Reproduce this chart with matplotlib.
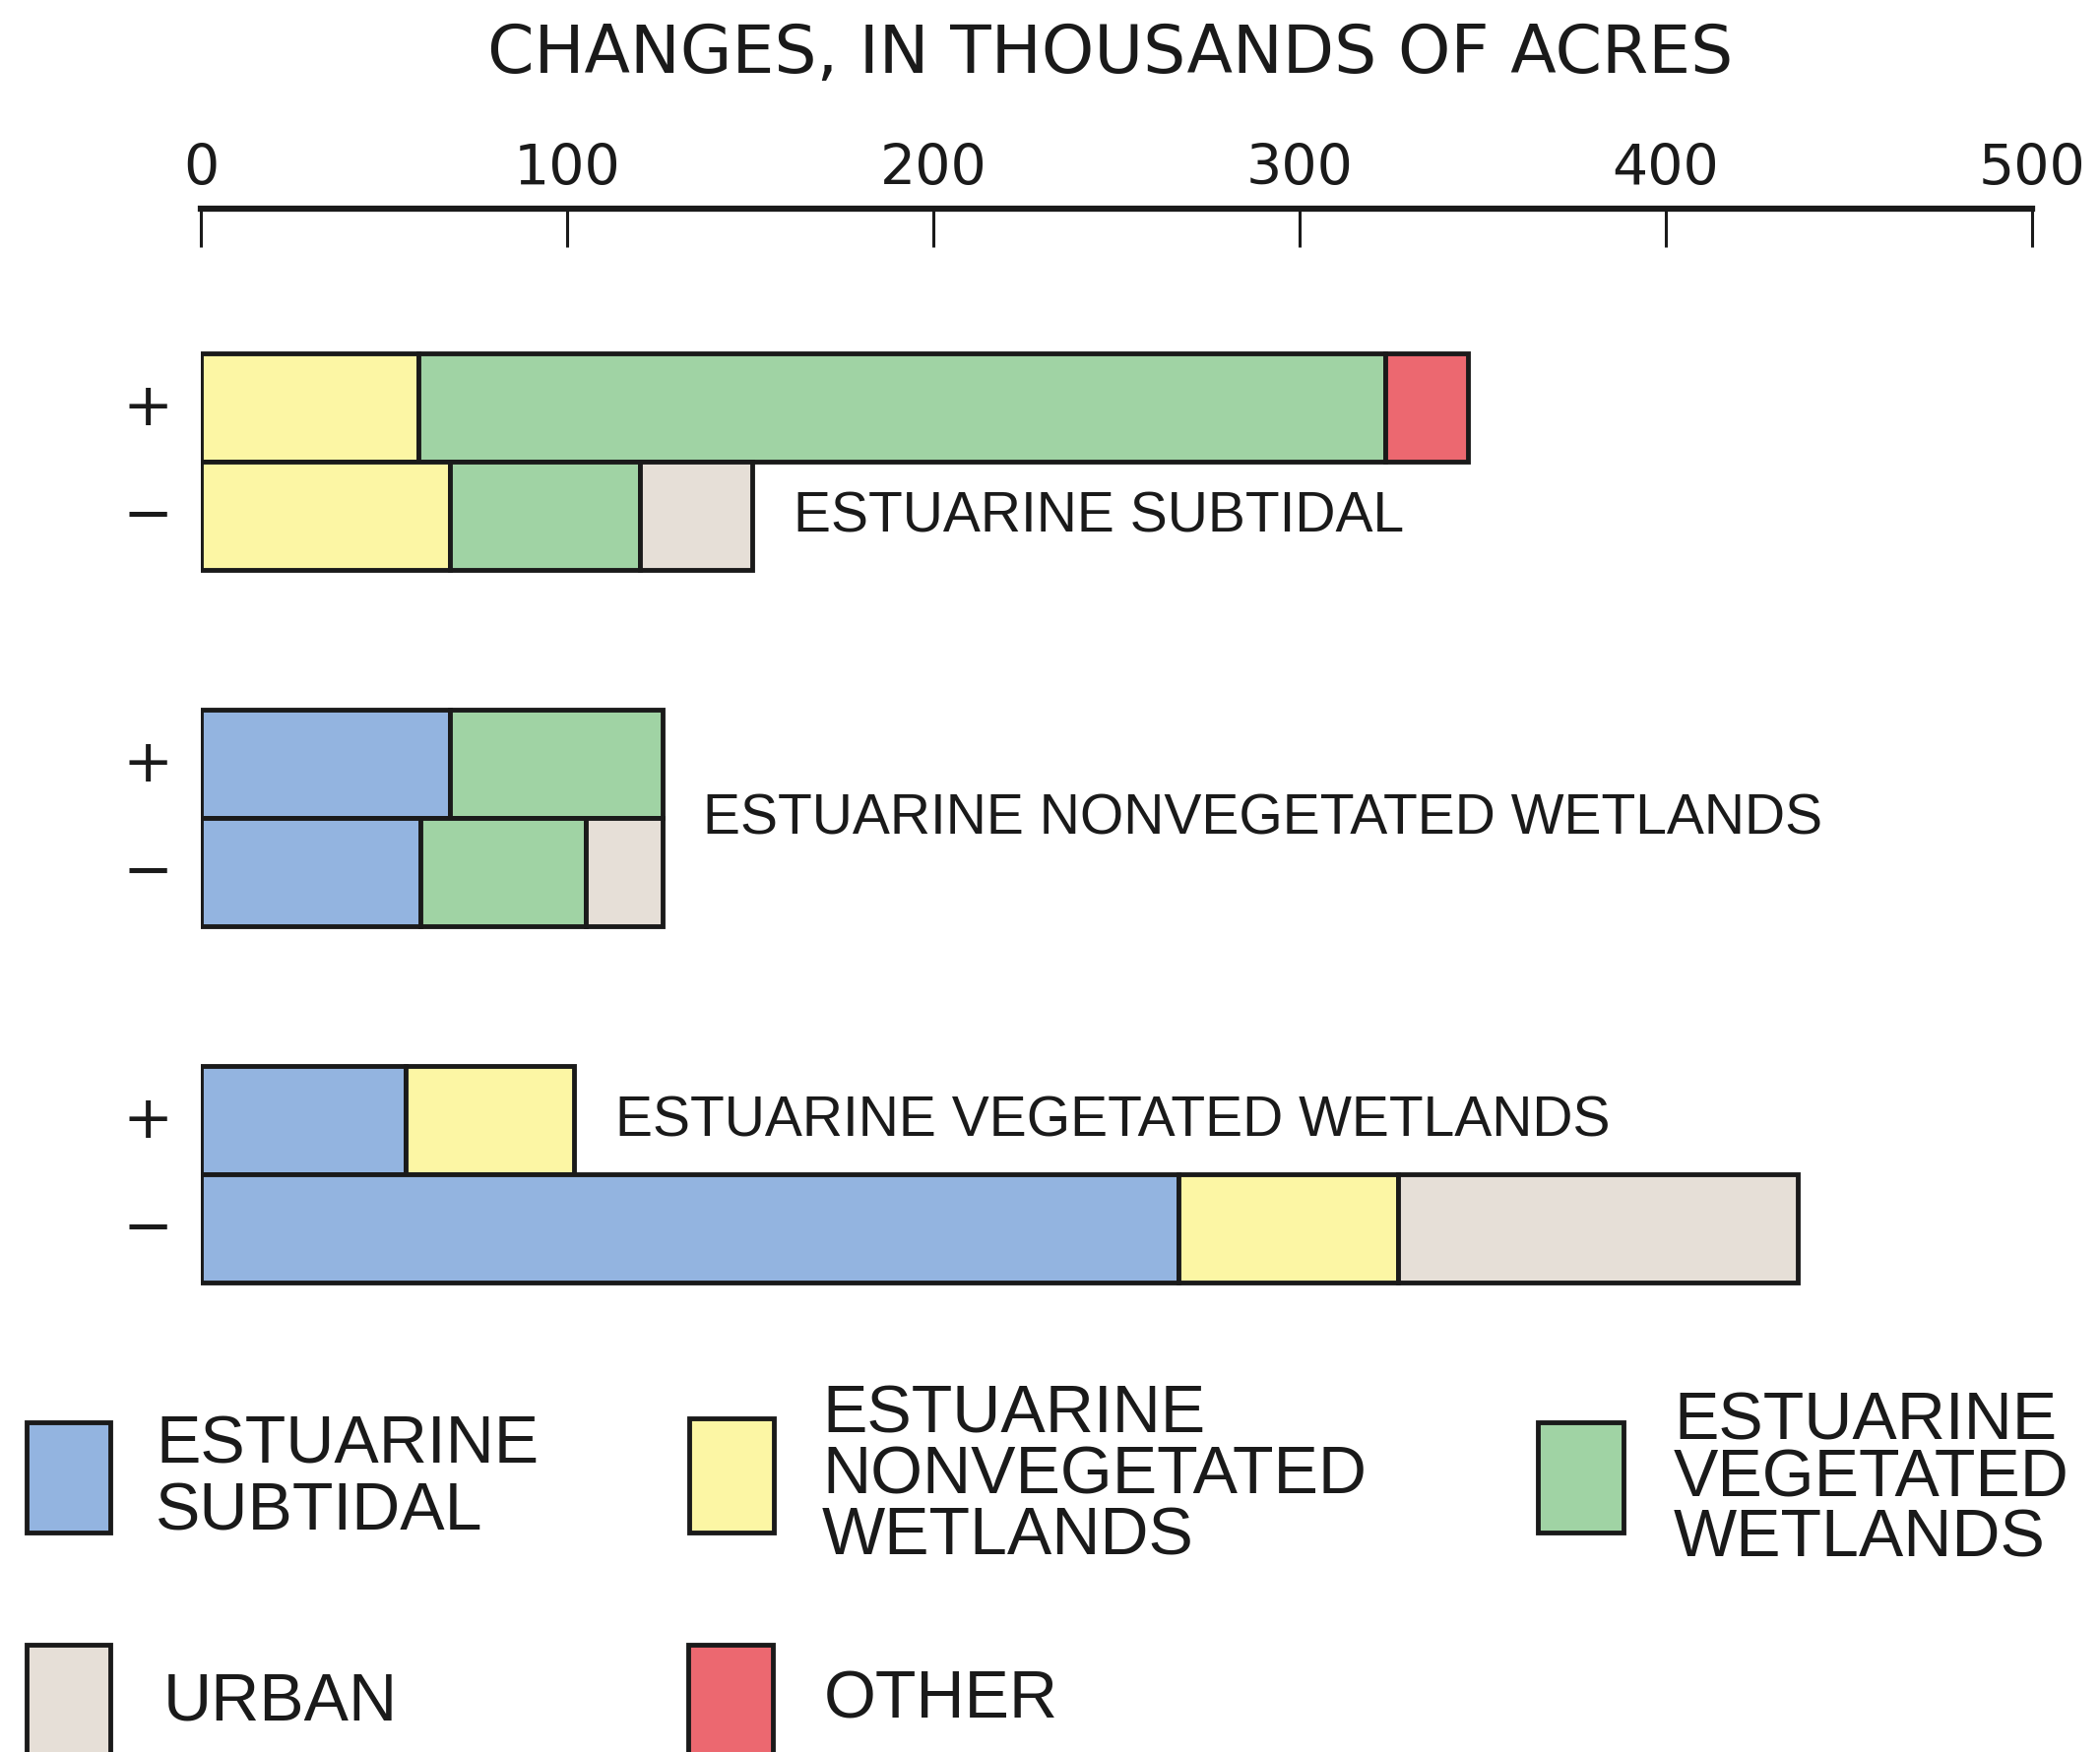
import matplotlib
matplotlib.use("Agg")
import matplotlib.pyplot as plt
from matplotlib.patches import Rectangle

# ---------------- data ----------------
groups = ["ESTUARINE SUBTIDAL", "ESTUARINE NONVEGETATED WETLANDS",
          "ESTUARINE VEGETATED WETLANDS"]
classes = ["ESTUARINE\nSUBTIDAL", "ESTUARINE\nNONVEGETATED\nWETLANDS",
           "ESTUARINE\nVEGETATED\nWETLANDS", "URBAN", "OTHER"]
# values per class: subtidal, nonvegetated, vegetated, urban, other (thousands of acres)
subtidal_gain = [0, 59.5, 264, 0, 22.5]
subtidal_loss = [0, 68, 52, 30.5, 0]
nonveg_gain = [68, 0, 58, 0, 0]
nonveg_loss = [60, 0, 45, 21, 0]
veg_gain = [56, 46, 0, 0, 0]
veg_loss = [267, 60, 0, 109, 0]
ticks = [0, 100, 200, 300, 400, 500]

gains = [subtidal_gain, nonveg_gain, veg_gain]
losses = [subtidal_loss, nonveg_loss, veg_loss]

colors = ["#93b4e0", "#fcf6a4", "#a0d3a4", "#e6dfd7", "#ec6870"]
edge = "#1a1a1a"

W, H = 2133, 1781
fig = plt.figure(figsize=(W / 100, H / 100), dpi=100)
fig.patch.set_facecolor("white")

# main axes
ax_top, ax_bot = 213, 1320
ax = fig.add_axes([204 / W, (H - ax_bot) / H, (2064 - 204) / W, (ax_bot - ax_top) / H])
unit = 110.0
ax.set_xlim(0, 500)
ax.set_ylim((ax_bot - ax_top) / unit, 0)
for s in ["left", "right", "bottom"]:
    ax.spines[s].set_visible(False)
ax.spines["top"].set_linewidth(4.5)
ax.spines["top"].set_color(edge)
ax.xaxis.set_ticks_position("top")
ax.set_xticks(ticks)
ax.set_xticklabels([str(t) for t in ticks])
ax.tick_params(axis="x", direction="in", length=28, width=2.2, color=edge,
               pad=9, labelsize=41, labelcolor="#1a1a1a")
ax.set_yticks([])
ax.patch.set_alpha(0)

first_center = 1.84
spacing = 3.29
lw = 3.5
label_row = ["loss", "both", "gain"]
for gi, name in enumerate(groups):
    yc_gain = first_center + gi * spacing
    yc_loss = yc_gain + 1.0
    ends = {}
    for key, vals, yc in [("gain", gains[gi], yc_gain), ("loss", losses[gi], yc_loss)]:
        left = 0.0
        for ci, v in enumerate(vals):
            if v <= 0:
                continue
            ax.barh(yc, v, left=left, height=1.0, color=colors[ci],
                    edgecolor=edge, linewidth=lw, zorder=3)
            left += v
        ends[key] = left
    # signs
    ax.annotate("+", xy=(0, yc_gain), xytext=(-39, 0), textcoords="offset points",
                ha="center", va="center", fontsize=44, color="#1a1a1a",
                family="DejaVu Sans", annotation_clip=False)
    ax.annotate("\u2212", xy=(0, yc_loss), xytext=(-39, 0), textcoords="offset points",
                ha="center", va="center", fontsize=44, color="#1a1a1a",
                family="DejaVu Sans", annotation_clip=False)
    # group label
    row = label_row[gi]
    if row == "loss":
        xe, yl = ends["loss"], yc_loss
    elif row == "gain":
        xe, yl = ends["gain"], yc_gain
    else:
        xe, yl = max(ends.values()), (yc_gain + yc_loss) / 2
    ax.annotate(name, xy=(xe, yl), xytext=(30, 0), textcoords="offset points",
                ha="left", va="center", fontsize=41, color="#1a1a1a",
                family="Liberation Sans", annotation_clip=False)

# title
fig.text(1128 / W, 1 - 55 / H, "CHANGES, IN THOUSANDS OF ACRES", ha="center",
         va="center", fontsize=49, color="#1a1a1a", family="DejaVu Sans")

# legend (figure pixel coordinates)
lg = fig.add_axes([0, 0, 1, 1])
lg.set_xlim(0, W)
lg.set_ylim(H, 0)
lg.axis("off")
lg.patch.set_alpha(0)
swatches = [
    (27, 1446, 85, 112, 158, [1469, 1537]),
    (700, 1442, 86, 116, 835, [1438, 1500, 1562]),
    (1562, 1446, 87, 112, 1700, [1445, 1503, 1564]),
    (27, 1672, 85, 115, 166, [1730]),
    (699, 1672, 86, 115, 837, [1728]),
]
for ci, (x0, y0, w, h, tx, lines) in enumerate(swatches):
    lg.add_patch(Rectangle((x0, y0), w, h, facecolor=colors[ci], edgecolor=edge,
                           linewidth=3.5, clip_on=False))
    for line, ty in zip(classes[ci].split("\n"), lines):
        lg.text(tx, ty, line, ha="left", va="center", fontsize=49,
                color="#1a1a1a", family="Liberation Sans")

fig.savefig("out.png", dpi=100, facecolor="white")
